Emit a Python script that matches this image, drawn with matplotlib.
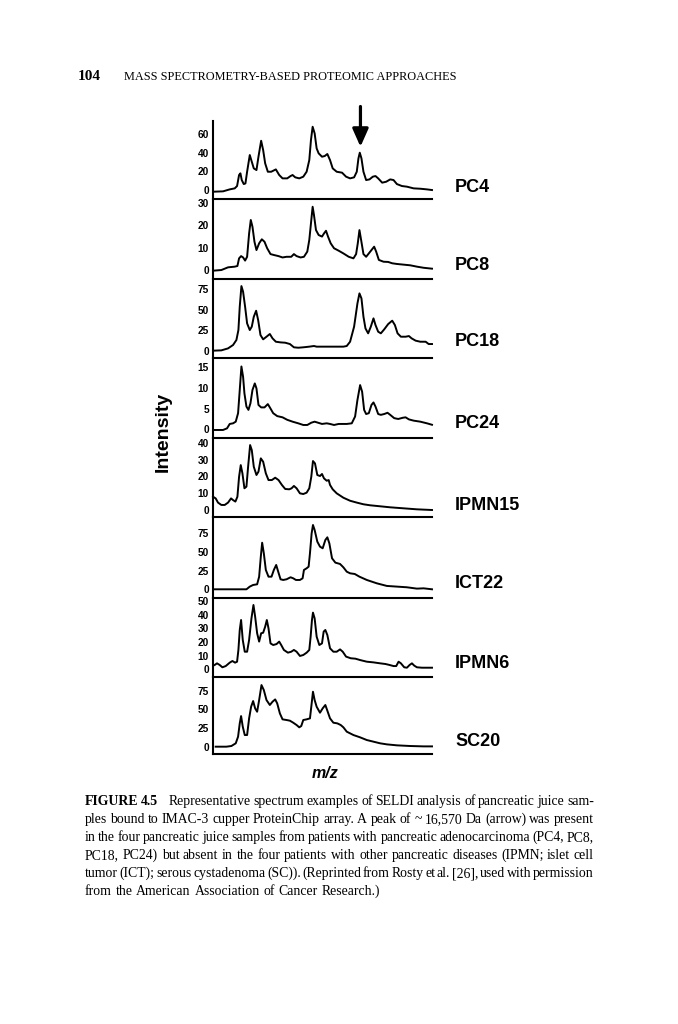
import matplotlib
matplotlib.use('Agg')
import matplotlib.pyplot as plt

# ---------------- data (m/z in arbitrary index units, intensity per panel) -------------
samples = ["PC4", "PC8", "PC18", "PC24", "IPMN15", "ICT22", "IPMN6", "SC20"]

pc4_mz = [190,220,240,255,262,268,272,276,282,287,292,300,306,312,320,326,334,340,346,354,
          364,378,388,398,412,422,428,436,448,460,470,478,483,488,494,500,506,516,524,532,
          540,548,560,576,588,600,612,620,625,629,634,640,648,658,668,676,684,696,708,720,
          730,740,755,770,790,810,830,845]
pc4_int = [-1.8,-1.4,0.7,1.8,4.3,16.1,17.9,10.7,6.4,7.1,19.6,37.5,30.3,23.2,21.4,35.7,52.8,42.8,28.6,19.6,
           19.6,22.1,16.1,12.5,12.5,15.0,16.1,13.6,12.5,14.3,19.6,32.1,53.6,67.8,60.7,44.6,39.3,35.7,36.4,38.6,
           32.1,23.2,19.6,18.6,14.3,12.5,13.6,19.6,33.9,40.0,33.9,19.6,10.7,11.4,14.3,15.0,12.5,7.9,8.9,11.4,
           10.7,6.4,4.3,3.6,1.8,1.4,0.7,0.0]

pc8_mz = [190,215,235,255,263,268,274,280,286,292,298,303,308,314,320,328,336,344,352,362,
          372,386,398,410,424,432,440,452,462,472,478,483,488,492,498,506,516,522,528,534,
          542,552,566,580,596,610,618,623,628,633,640,648,656,664,672,678,686,700,714,726,
          740,760,780,800,820,845]
pc8_int = [-0.3,0,1.2,1.5,1.8,5.2,6.2,5.6,4.2,5.9,16.3,22.3,19.3,12.6,8.9,11.9,13.7,12.6,9.7,7.1,
           6.7,6.2,5.6,5.9,5.9,7.1,6.2,5.6,5.9,8.2,13.4,20.8,28.2,24.5,17.8,15.6,14.9,16.3,17.5,14.9,
           11.9,9.7,8.6,7.4,5.9,5.2,7.1,11.9,17.8,13.4,7.1,5.9,7.4,8.9,10.4,8.2,4.5,3.7,3.6,3.0,
           2.7,2.4,2.1,1.5,1.0,0.6]

pc18_mz = [190,215,235,250,260,266,270,275,280,286,292,300,306,312,319,325,332,340,350,360,
           368,378,392,406,420,432,445,460,478,492,500,515,540,560,580,590,600,612,622,628,
           634,640,646,654,662,670,676,684,692,702,714,726,734,742,752,766,776,784,796,810,
           826,835,845]
pc18_int = [0,0.4,2.8,6.9,13.0,25.1,53.5,78.6,71.7,53.5,33.2,25.1,29.2,41.3,48.6,37.3,19.0,13.8,17.0,20.3,
            15.0,10.9,10.1,9.7,8.1,4.1,3.6,4.1,4.9,5.7,4.9,4.9,4.9,4.9,4.9,5.7,10.9,29.2,57.5,69.7,
            63.6,41.3,27.1,21.1,29.2,39.3,31.2,23.1,21.1,25.9,32.4,36.5,31.2,21.1,17.0,17.0,17.8,15.0,12.2,10.9,
            10.9,8.1,8.1]

pc24_mz = [195,220,232,240,250,258,265,270,275,280,284,290,296,302,308,315,320,326,334,344,
           354,360,370,382,398,412,428,445,460,472,484,494,504,516,530,540,552,566,590,605,
           615,622,630,636,642,648,656,664,670,676,684,692,702,712,720,732,744,758,766,776,
           790,810,830,845]
pc24_int = [-0.16,-0.16,0.24,1.3,1.45,1.85,3.9,9.5,15.2,12.7,8.7,5.5,4.7,6.3,9.5,11.1,9.9,5.9,5.3,5.3,
            6.1,5.3,3.9,3.2,2.9,2.3,1.85,1.45,1.05,1.05,1.6,1.85,1.6,1.3,1.45,1.3,1.05,1.3,1.3,1.45,
            3.1,7.1,10.7,9.1,4.7,3.7,3.9,5.9,6.5,5.5,3.7,3.5,3.7,4.0,3.5,2.7,2.5,2.8,2.9,2.4,
            2.1,1.85,1.45,1.1]

ipmn15_mz = [190,198,205,215,225,235,244,250,257,263,268,273,278,284,290,295,301,306,312,320,
             326,333,340,348,356,366,376,386,396,406,418,425,432,440,450,460,470,478,484,489,
             495,502,510,516,522,530,536,540,548,560,580,600,620,640,660,690,720,760,800,845]
ipmn15_int = [7.9,6.9,4.4,3.0,3.0,4.4,6.9,5.9,5.0,7.9,19.8,26.7,21.8,12.9,13.9,25.7,38.6,35.6,25.7,20.8,
              22.8,30.7,28.7,21.8,17.8,17.8,19.2,17.8,14.9,12.5,12.3,12.9,14.3,12.9,9.9,9.5,10.3,12.9,19.8,29.1,
              27.7,20.8,20.2,21.4,18.8,17.4,17.8,14.9,12.3,9.9,7.3,5.5,4.4,3.4,2.8,2.2,1.6,1.0,0.4,0]

ict22_mz = [195,240,290,300,310,322,328,333,337,342,348,356,365,372,379,385,392,400,410,422,
            430,438,450,458,462,470,476,480,485,489,494,502,510,518,526,532,538,546,556,570,
            580,590,600,614,628,650,680,710,740,770,800,820,845]
ict22_int = [0,0,0,3.6,5.8,6.7,16.9,43.7,62.4,48.2,25.9,16.9,16.9,25.9,32.6,23.6,13.4,12.5,13.4,16.1,
             14.7,12.5,12.5,14.7,25.9,28.1,30.3,48.2,74.9,86.1,79.4,63.8,57.1,54.9,66.0,69.6,61.5,41.5,35.7,33.9,
             29.4,23.6,21.4,20.5,16.9,12.5,8.0,4.5,3.6,2.7,0.9,1.3,0]

ipmn6_mz = [195,202,210,218,228,240,248,256,262,266,270,274,279,285,292,298,305,311,316,322,
            328,334,340,346,351,356,362,370,380,388,394,402,414,424,432,440,450,460,470,478,
            482,486,489,494,500,508,516,521,526,532,540,550,560,570,578,588,602,616,630,650,
            670,690,706,718,730,738,745,752,762,770,778,785,792,800,815,830,845]
ipmn6_int = [3.2,4.4,3.2,1.5,2.4,4.9,6.1,4.9,5.6,14.2,28.8,36.1,21.5,12.9,12.9,21.5,37.3,47.1,38.6,26.4,
             20.3,26.4,26.8,31.2,36.1,30.0,19.0,17.8,18.5,20.3,17.8,14.2,12.2,12.9,14.2,12.9,9.8,10.5,12.2,14.2,
             23.9,36.1,41.5,37.3,23.9,17.8,19.0,27.6,28.8,25.1,15.4,12.9,12.9,14.6,12.9,9.3,8.1,7.8,6.8,5.6,
             5.1,4.4,3.9,3.2,2.4,2.4,5.6,4.4,1.5,1.2,3.2,4.4,2.7,1.5,1.2,1.2,1.2]

sc20_mz = [198,230,245,258,265,270,274,279,285,292,298,304,310,316,322,328,335,342,350,360,
           368,376,382,390,398,410,420,430,440,448,454,460,470,480,484,489,494,500,510,518,
           526,532,540,550,562,572,580,590,610,630,650,670,690,710,740,780,820,845]
sc20_int = [0,0,0.9,4.5,13.4,31.2,41.0,26.8,15.6,15.6,37.9,53.5,61.1,51.3,46.8,62.4,82.5,75.8,62.4,55.8,
            60.2,63.3,58.0,44.6,36.6,35.7,34.8,32.1,29.0,25.9,27.7,35.7,36.6,37.9,53.5,73.6,62.4,53.5,45.5,51.3,
            55.8,48.2,37.9,32.1,31.2,29.0,25.9,20.1,15.6,12.5,8.9,6.7,4.5,3.1,1.8,0.9,0.4,0.4]

ytick_values = [[0, 20, 40, 60], [0, 10, 20, 30], [0, 25, 50, 75], [0, 5, 10, 15],
                [0, 10, 20, 30, 40], [0, 25, 50, 75], [0, 10, 20, 30, 40, 50], [0, 25, 50, 75]]
marker_mz = 631          # ~16,570 Da peak (arrow)

caption_lines = [
    "FIGURE 4.5|Representative spectrum examples of SELDI analysis of pancreatic juice sam-",
    "ples bound to IMAC-3 cupper ProteinChip array. A peak of ~ 16,570 Da (arrow) was present",
    "in the four pancreatic juice samples from patients with pancreatic adenocarcinoma (PC4, PC8,",
    "PC18, PC24) but absent in the four patients with other pancreatic diseases (IPMN; islet cell",
    "tumor (ICT); serous cystadenoma (SC)). (Reprinted from Rosty et al. [26], used with permission",
    "from the American Association of Cancer Research.)",
]

# ---------------- layout / style -------------
W, H = 678, 1024
fig = plt.figure(figsize=(W / 100, H / 100), dpi=100)
SANS = ['Liberation Sans', 'DejaVu Sans']
SERIF = ['Liberation Serif', 'DejaVu Serif']

mz_series = [pc4_mz, pc8_mz, pc18_mz, pc24_mz, ipmn15_mz, ict22_mz, ipmn6_mz, sc20_mz]
int_series = [pc4_int, pc8_int, pc18_int, pc24_int, ipmn15_int, ict22_int, ipmn6_int, sc20_int]
ylims = [(-9.6, 74.5), (-4.0, 31.65), (-8.9, 87.2), (-2.1, 17.25),
         (-4.16, 42.8), (-11.65, 96.8), (-5.6, 52.2), (-9.8, 93.3)]
tops = [120.5, 199, 279, 358, 438, 517, 598, 677]
bots = [199, 279, 358, 438, 517, 598, 677, 754]
label_y = [188, 266, 342, 423, 505, 584, 663, 741]
x_left, x_right = 213, 432

axes = []
for i, name in enumerate(samples):
    ax = fig.add_axes([x_left / W, 1 - bots[i] / H, (x_right - x_left) / W, (bots[i] - tops[i]) / H])
    ax.patch.set_alpha(0)
    ax.plot(mz_series[i], int_series[i], color='black', lw=1.4, solid_joinstyle='round', clip_on=False)
    ax.set_xlim(190, 845)
    ax.set_ylim(*ylims[i])
    ax.set_xticks([])
    ax.set_yticks(ytick_values[i])
    ax.set_yticklabels([str(v) for v in ytick_values[i]], fontsize=7.3, fontweight='bold', family=SANS)
    ax.tick_params(axis='y', length=0, pad=3)
    for s in ['top', 'right']:
        ax.spines[s].set_visible(False)
    for s in ['left', 'bottom']:
        ax.spines[s].set_linewidth(1.5)
    fig.text(455 / W, 1 - label_y[i] / H, name, fontsize=13, fontweight='bold',
             family=SANS, ha='left', va='center')
    axes.append(ax)

axes[0].annotate('', xy=(marker_mz, 46.4), xytext=(marker_mz, 89.5),
                 arrowprops=dict(arrowstyle='-|>,head_length=0.9,head_width=0.4', lw=2.3,
                                 color='black', mutation_scale=12, shrinkA=0, shrinkB=0),
                 annotation_clip=False)

fig.text(163 / W, 1 - 432 / H, 'Intensity', rotation=90, fontsize=14, fontweight='bold',
         family=SANS, ha='center', va='center')
fig.text(325 / W, 1 - 774 / H, 'm/z', fontsize=11.5, fontweight='bold', style='italic',
         family=SANS, ha='center', va='center')

r = fig.canvas.get_renderer()

fig.text(78 / W, 1 - 75 / H, '104', fontsize=11, fontweight='bold', family=SERIF, va='center_baseline')
fig.text(124 / W, 1 - 75 / H, 'MASS SPECTROMETRY-BASED PROTEOMIC APPROACHES', fontsize=8.8,
         family=SERIF, va='center_baseline')

# ---------------- justified caption -------------
cap_fs = 9.9
cx0, cx1 = 85, 594
cap_y = [800, 818, 836, 854, 872, 890]
for li, line in enumerate(caption_lines):
    tokens = []
    if '|' in line:
        head, rest = line.split('|')
        for w in head.split(' '):
            tokens.append((w, 'bold', 1.0))
        for j, w in enumerate(rest.split(' ')):
            tokens.append((w, 'normal', 4.0 if j == 0 else 1.0))
    else:
        for w in line.split(' '):
            tokens.append((w, 'normal', 1.0))
    objs = [fig.text(0, 1 - cap_y[li] / H, w, fontsize=cap_fs, fontweight=wt, family=SERIF,
                     ha='left', va='center_baseline') for w, wt, _ in tokens]
    widths = [o.get_window_extent(renderer=r).width for o in objs]
    gw = [g for _, _, g in tokens[1:]]
    last = li == len(caption_lines) - 1
    if last:
        unit = cap_fs * 100 / 72 * 0.27
    else:
        unit = max((cx1 - cx0 - sum(widths)) / sum(gw), 1.5)
    x = cx0
    for k, o in enumerate(objs):
        o.set_x(x / W)
        if k < len(gw):
            x += widths[k] + unit * gw[k]

fig.savefig('out.png', dpi=100)
